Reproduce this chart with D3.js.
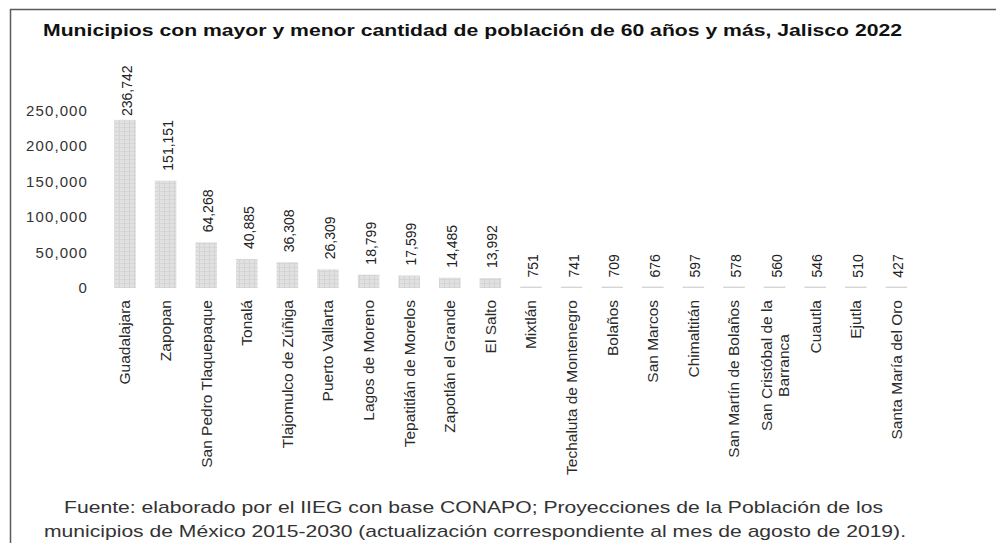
<!DOCTYPE html>
<html lang="es">
<head>
<meta charset="utf-8">
<script src="https://cdn.jsdelivr.net/npm/d3@7"></script>
<style>
    html, body { margin: 0; padding: 0; background: #ffffff; }
    svg { display: block; font-family: "Liberation Sans", Arial, sans-serif; }
</style>
</head>
<body>
<div id="chart"></div>
<script>
//--------------------------------------------------
// datos
//--------------------------------------------------

const municipios = [
    "Guadalajara", "Zapopan", "San Pedro Tlaquepaque", "Tonalá", "Tlajomulco de Zúñiga",
    "Puerto Vallarta", "Lagos de Moreno", "Tepatitlán de Morelos", "Zapotlán el Grande", "El Salto",
    "Mixtlán", "Techaluta de Montenegro", "Bolaños", "San Marcos", "Chimaltitán",
    "San Martín de Bolaños", "San Cristóbal de la|Barranca", "Cuautla", "Ejutla", "Santa María del Oro"
];

const poblacion60 = [
    236742, 151151, 64268, 40885, 36308,
    26309, 18799, 17599, 14485, 13992,
    751, 741, 709, 676, 597,
    578, 560, 546, 510, 427
];

const yTicks = [0, 50000, 100000, 150000, 200000, 250000];

const titulo = "Municipios con mayor y menor cantidad de población de 60 años y más, Jalisco 2022";
const fuente = [
    "Fuente: elaborado por el IIEG con base CONAPO; Proyecciones de la Población de los",
    "municipios de México 2015-2030 (actualización correspondiente al mes de agosto de 2019)."
];

//--------------------------------------------------
// lienzo
//--------------------------------------------------

const width = 1001;
const height = 543;
const fmt = d3.format(",");

const svg = d3.select("#chart")
    .append("svg")
    .attr("width", width)
    .attr("height", height);

// textura de las barras
const defs = svg.append("defs");
const pat = defs.append("pattern")
    .attr("id", "trama")
    .attr("patternUnits", "userSpaceOnUse")
    .attr("width", 5)
    .attr("height", 4);
pat.append("rect").attr("width", 5).attr("height", 4).attr("fill", "#e1e1e1");
pat.append("rect").attr("x", 4).attr("width", 1).attr("height", 4).attr("fill", "#d2d2d2");
pat.append("rect").attr("y", 3).attr("width", 5).attr("height", 1).attr("fill", "#d5d5d5");

// marco (solo arriba e izquierda)
svg.append("path")
    .attr("d", "M10.5,543 L10.5,9.5 L996,9.5")
    .attr("fill", "none")
    .attr("stroke", "#5a5a5a")
    .attr("stroke-width", 1.5);

// titulo
svg.append("text")
    .attr("x", 43)
    .attr("y", 36)
    .attr("textLength", 859)
    .attr("lengthAdjust", "spacingAndGlyphs")
    .style("font-weight", "bold")
    .style("font-size", "17px")
    .attr("fill", "#111")
    .text(titulo);

//--------------------------------------------------
// escalas
//--------------------------------------------------

const x = d3.scaleBand()
    .domain(municipios)
    .range([104.7, 916.7])
    .paddingInner(0.47)
    .paddingOuter(0.235);

const y = d3.scaleLinear()
    .domain([0, 250000])
    .range([288, 110.5]);

// eje y (solo etiquetas)
const yAxis = svg.append("g")
    .attr("transform", "translate(88,0)")
    .call(d3.axisLeft(y).tickValues(yTicks).tickFormat(fmt).tickSize(0).tickPadding(0));
yAxis.select(".domain").remove();
yAxis.selectAll("text")
    .style("font-family", "\"Liberation Sans\", Arial, sans-serif")
    .style("font-size", "15px")
    .style("letter-spacing", "1.1px")
    .attr("fill", "#333");

//--------------------------------------------------
// barras
//--------------------------------------------------

svg.append("g")
    .selectAll("rect")
    .data(municipios)
    .enter()
    .append("rect")
    .attr("x", d => x(d))
    .attr("width", x.bandwidth())
    .attr("y", (d, i) => Math.min(y(poblacion60[i]), y(0) - 1.5))
    .attr("height", (d, i) => Math.max(y(0) - y(poblacion60[i]), 1.5))
    .attr("fill", "url(#trama)");

// valores sobre las barras
svg.append("g")
    .selectAll("text")
    .data(municipios)
    .enter()
    .append("text")
    .attr("transform", (d, i) => {
        const cx = x(d) + x.bandwidth() / 2 + 2;
        const cy = Math.max(y(poblacion60[i]) - 10, 116);
        return `translate(${cx},${cy}) rotate(-90)`;
    })
    .attr("dy", "0.35em")
    .style("font-size", "14px")
    .attr("fill", "#222")
    .text((d, i) => fmt(poblacion60[i]));

// nombres de municipios
const etiquetas = svg.append("g")
    .selectAll("g")
    .data(municipios)
    .enter()
    .append("g")
    .attr("transform", d => `translate(${x(d) + x.bandwidth() / 2},300) rotate(-90)`);

etiquetas.each(function (d) {
    const g = d3.select(this);
    const lineas = d.split("|");
    const n = lineas.length;
    const t1 = g.append("text")
        .attr("text-anchor", "end")
        .attr("dy", (0.35 - (n - 1) * 0.55) + "em")
        .style("font-size", "15.5px")
        .attr("fill", "#2a2a2a")
        .text(lineas[0]);
    if (n > 1) {
        const l1 = t1.node().getComputedTextLength();
        g.append("text")
            .attr("x", -l1 / 2)
            .attr("text-anchor", "middle")
            .attr("dy", (0.35 + 0.55) + "em")
            .style("font-size", "15.5px")
            .attr("fill", "#2a2a2a")
            .text(lineas[1]);
    }
});

//--------------------------------------------------
// fuente
//--------------------------------------------------

svg.append("text")
    .attr("x", 64)
    .attr("y", 513)
    .attr("textLength", 819)
    .attr("lengthAdjust", "spacingAndGlyphs")
    .style("font-size", "17px")
    .attr("fill", "#333")
    .text(fuente[0]);

svg.append("text")
    .attr("x", 44)
    .attr("y", 537)
    .attr("textLength", 862)
    .attr("lengthAdjust", "spacingAndGlyphs")
    .style("font-size", "17px")
    .attr("fill", "#333")
    .text(fuente[1]);
</script>
</body>
</html>
